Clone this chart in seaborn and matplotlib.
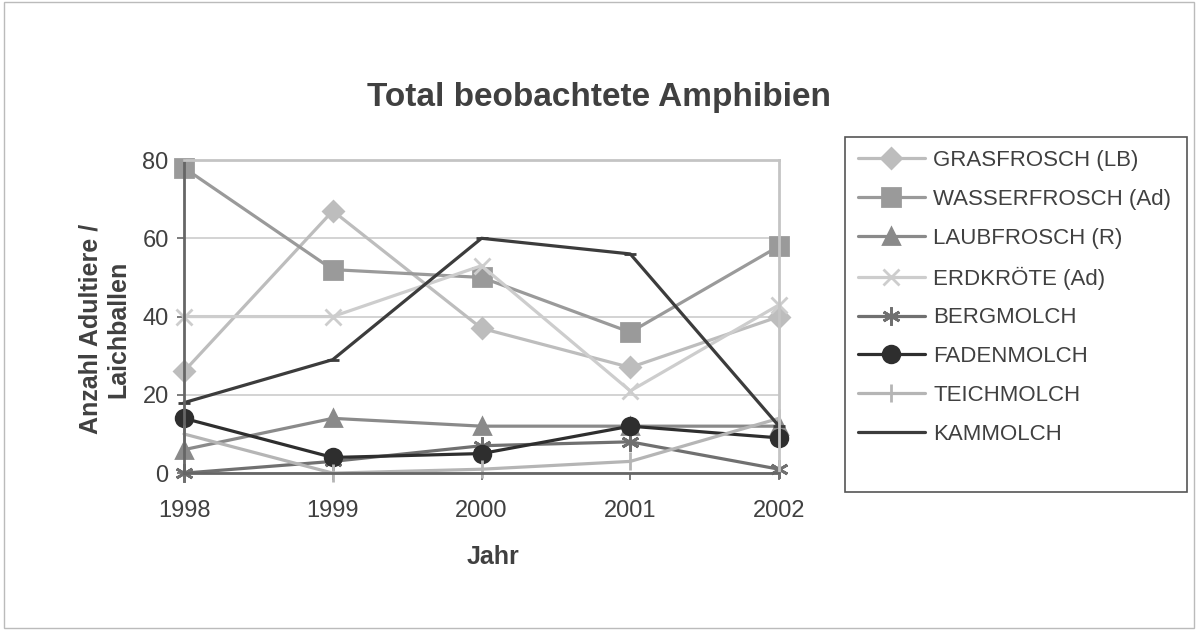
import pandas as pd
import matplotlib
matplotlib.use("Agg")
import matplotlib.pyplot as plt
import seaborn as sns
from matplotlib.lines import Line2D

# data
years = [1998, 1999, 2000, 2001, 2002]
species = ["GRASFROSCH (LB)", "WASSERFROSCH (Ad)", "LAUBFROSCH (R)", "ERDKRÖTE (Ad)",
           "BERGMOLCH", "FADENMOLCH", "TEICHMOLCH", "KAMMOLCH"]
grasfrosch = [26, 67, 37, 27, 40]
wasserfrosch = [78, 52, 50, 36, 58]
laubfrosch = [6, 14, 12, 12, 12]
erdkroete = [40, 40, 53, 21, 43]
bergmolch = [0, 3, 7, 8, 1]
fadenmolch = [14, 4, 5, 12, 9]
teichmolch = [10, 0, 1, 3, 14]
kammolch = [18, 29, 60, 56, 12]

series = [grasfrosch, wasserfrosch, laubfrosch, erdkroete,
          bergmolch, fadenmolch, teichmolch, kammolch]

colors = ["#bdbdbd", "#9a9a9a", "#8a8a8a", "#cdcdcd",
          "#707070", "#2e2e2e", "#b5b5b5", "#3c3c3c"]
markers = ["D", "s", "^", "x", (6, 2, 0), "o", "|", "_"]
msizes = [10, 13, 11, 12, 13, 12, 13, 9]

sns.set_theme(style="white")
plt.rcParams["font.family"] = ["Liberation Sans", "DejaVu Sans"]

fig = plt.figure(figsize=(11.98, 6.30), dpi=100)
ax = fig.add_axes([0.1536, 0.249, 0.4967, 0.497])

for name, vals, c, m, ms in zip(species, series, colors, markers, msizes):
    d = pd.DataFrame({"Jahr": years, "Anzahl": vals})
    sns.lineplot(data=d, x="Jahr", y="Anzahl", color=c, marker=m, markersize=ms,
                 markeredgewidth=2, markeredgecolor=c, linewidth=2.3, ax=ax,
                 label=name, legend=False, clip_on=False)

ax.set_xlim(1998, 2002)
ax.set_ylim(0, 80)
ax.set_xticks(years)
ax.set_yticks([0, 20, 40, 60, 80])
ax.yaxis.grid(True, color="#cccccc", linewidth=1.2)
ax.set_axisbelow(True)
for s in ["top", "right"]:
    ax.spines[s].set_color("#c4c4c4")
    ax.spines[s].set_linewidth(2)
for s in ["left", "bottom"]:
    ax.spines[s].set_color("#666666")
    ax.spines[s].set_linewidth(2)
ax.tick_params(axis="both", which="both", length=5, width=1.2, color="#666666",
               labelsize=17, labelcolor="#404040", direction="out",
               bottom=True, left=True, pad=6)
ax.tick_params(axis="x", pad=14)

ax.set_xlabel("Jahr", fontsize=18, fontweight="bold", color="#404040")
ax.set_ylabel("Anzahl Adultiere /\nLaichballen", fontsize=18, fontweight="bold",
              color="#404040", linespacing=1.2)
ax.xaxis.set_label_coords(0.52, -0.23)
ax.yaxis.set_label_coords(-0.09, 0.46)

fig.text(0.5, 0.845, "Total beobachtete Amphibien", ha="center", va="center",
         fontsize=24, fontweight="bold", color="#404040")

# legend box drawn separately (extra room at the bottom as in the original)
fig.patches.append(plt.Rectangle((0.7053, 0.219), 0.2855, 0.5635, transform=fig.transFigure,
                                 fill=False, edgecolor="#555555", linewidth=1.2))

handles = [Line2D([0], [0], color=c, marker=m, markersize=ms, markeredgewidth=2,
                  markeredgecolor=c, linewidth=2.3)
           for c, m, ms in zip(colors, markers, msizes)]
leg = fig.legend(handles, species, loc="upper left",
                 bbox_to_anchor=(0.705, 0.783), frameon=False, fontsize=16,
                 handlelength=3.0, handletextpad=0.4, labelspacing=0.8,
                 borderpad=0.6, borderaxespad=0)
for t in leg.get_texts():
    t.set_color("#404040")

# outer chart border
fig.patches.append(plt.Rectangle((0.003, 0.003), 0.994, 0.994, transform=fig.transFigure,
                                 fill=False, edgecolor="#bbbbbb", linewidth=1))

fig.savefig("out.png", dpi=100)
